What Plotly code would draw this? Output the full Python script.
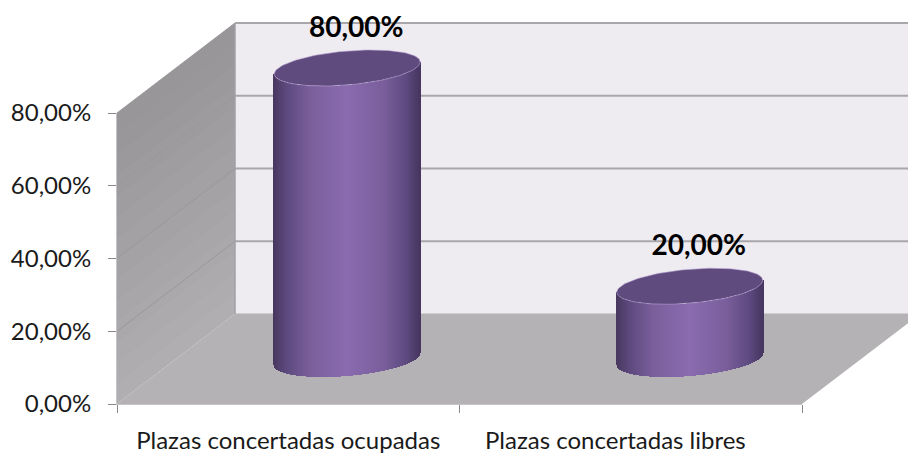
import numpy as np
import plotly.graph_objects as go

CATEGORIES = ["Plazas concertadas ocupadas", "Plazas concertadas libres"]
VALUES = [80.0, 20.0]
TICK_VALUES = [0, 20, 40, 60, 80]
TICK_LABELS = ["0,00%", "20,00%", "40,00%", "60,00%", "80,00%"]
LABEL_PAD = [0, 5]         # trailing no-break spaces that nudge a category label left

W, H = 908, 453
X0, X1 = 117, 802          # category axis, pixels
Y0, Y80 = 404, 113         # value axis, pixels
PX_CAT = (X1 - X0) / len(CATEGORIES)
PX_VAL = (Y0 - Y80) / 80
DX = 118 / PX_CAT          # full chart depth, in data units
DY = 90 / PX_VAL
FONT = "Lato, Carlito, sans-serif"

xr = [-0.5 - X0 / PX_CAT, -0.5 + (W - X0) / PX_CAT]
yr = [(Y0 - H) / PX_VAL, Y0 / PX_VAL]
XL, XR = -0.5, len(CATEGORIES) - 0.5
VMAX = max(TICK_VALUES)
SHOWN = [c + "\u00a0" * n for c, n in zip(CATEGORIES, LABEL_PAD)]


def poly(xs, ys, fill, line=None, lw=0, ax=("x2", "y2")):
    return go.Scatter(x=list(xs), y=list(ys), xaxis=ax[0], yaxis=ax[1], mode="lines",
                      fill="toself", fillcolor=fill,
                      line=dict(color=line or fill, width=lw),
                      hoverinfo="skip", showlegend=False)


def seg(xs, ys, color, lw):
    return go.Scatter(x=list(xs), y=list(ys), xaxis="x2", yaxis="y2", mode="lines",
                      line=dict(color=color, width=lw), hoverinfo="skip", showlegend=False)


def mix(stops, t):
    pos = [s[0] for s in stops]
    out = [int(np.interp(t, pos, [int(s[1][i:i + 2], 16) for s in stops])) for i in (1, 3, 5)]
    return f"rgb({out[0]},{out[1]},{out[2]})"


traces = []
# invisible carrier: gives the visible axes their scale
traces.append(go.Bar(x=SHOWN, y=VALUES, marker=dict(opacity=0), hoverinfo="skip", showlegend=False))

# back wall
traces.append(poly([XL + DX, XR + DX, XR + DX, XL + DX], [DY, DY, VMAX + DY, VMAX + DY], "#EEEBF1"))
# floor
traces.append(poly([XL, XR, XR + DX, XL + DX], [0, 0, DY, DY], "#B4B2B4"))
# left wall, shaded top-dark to bottom-light; each band overlaps the ones below
bands = 14
for i in range(bands, 0, -1):
    v1 = VMAX * i / bands
    c = mix([(0, "#B0AEB0"), (1, "#989698")], (i - 1) / (bands - 1))
    traces.append(poly([XL, XL + DX, XL + DX, XL], [0, DY, v1 + DY, v1], c))
# gridlines
for v in TICK_VALUES:
    if v > 0:
        traces.append(seg([XL + DX, XR + DX], [v + DY, v + DY], "#A9A7AB", 2))
        traces.append(seg([XL, XL + DX], [v, v + DY], "#9A989B", 1))
traces.append(seg([XL + DX, XR + DX], [DY, DY], "#B4B2B4", 1))
traces.append(seg([XL + DX, XL + DX], [DY, VMAX + DY], "#A3A1A4", 1.5))
traces.append(seg([XL, XL + DX], [0, DY], "#C6C4C7", 1))

# cylinders
A, B, S = 73.0, 17.0, 6.0    # ellipse half-axes and tilt, pixels
BODY = [(-1, "#483860"), (-0.82, "#5E4A7E"), (-0.5, "#7A5F9C"), (0, "#8A6CB0"),
        (0.5, "#7A5F9C"), (0.82, "#5E4A80"), (1, "#463660")]
us = np.linspace(-1, 1, 147)
front = (B * np.sqrt(1 - us ** 2) - S * us) / PX_VAL
bx, by, bb, bc = [], [], [], []
for k, val in enumerate(VALUES):
    for u, fr in zip(us, front):
        bx.append(k + DX / 2 + u * A / PX_CAT)
        by.append(val)
        bb.append(DY / 2 - fr)
        bc.append(mix(BODY, u))
traces.append(go.Bar(x=bx, y=by, base=bb, xaxis="x3", yaxis="y3", width=1.25 / PX_CAT,
                     marker=dict(color=bc, line=dict(width=0)),
                     hoverinfo="skip", showlegend=False))
# caps
t = np.linspace(0, 2 * np.pi, 120)
for k, val in enumerate(VALUES):
    ex = k + DX / 2 + A * np.cos(t) / PX_CAT
    ey = val + DY / 2 + (B * np.sin(t) + S * np.cos(t)) / PX_VAL
    traces.append(poly(ex, ey, "#604B7F", "rgba(190,170,215,0.55)", 1, ("x3", "y3")))

# data labels
traces.append(go.Scatter(
    x=[k + DX / 2 + 9 / PX_CAT for k in range(len(VALUES))],
    y=[v + DY / 2 + 38 / PX_VAL for v in VALUES],
    text=[f"{v:.2f}".replace(".", ",") + "%" for v in VALUES],
    mode="text", textposition="middle center",
    textfont=dict(family=FONT, size=28, color="#000000"),
    texttemplate="<b>%{text}</b>",
    xaxis="x3", yaxis="y3", hoverinfo="skip", showlegend=False, cliponaxis=False))

fig = go.Figure(traces)
AX = "#8A888A"
TF = dict(family=FONT, size=24, color="#1A1A1A")
fig.update_layout(
    width=W, height=H, margin=dict(l=0, r=0, t=0, b=0, pad=0, autoexpand=False),
    paper_bgcolor="white", plot_bgcolor="rgba(0,0,0,0)", showlegend=False,
    barmode="overlay", bargap=0,
    font=dict(family=FONT, size=20, color="#1A1A1A"),
    xaxis=dict(domain=[X0 / W, X1 / W], type="category", categoryorder="array",
               categoryarray=SHOWN, range=[XL, XR], tickson="boundaries",
               ticks="outside", ticklen=8, tickcolor=AX, tickwidth=1, showgrid=False,
               showline=True, linecolor="#C4C3C5", linewidth=1, zeroline=False,
               anchor="y", ticklabelstandoff=15, tickfont=TF),
    yaxis=dict(domain=[(H - Y0) / H, (H - Y80) / H], range=[0, VMAX],
               tickvals=TICK_VALUES, ticktext=TICK_LABELS, ticks="outside", ticklen=8,
               tickcolor=AX, tickwidth=1, showgrid=False, showline=True,
               linecolor="#C4C3C5", linewidth=1, zeroline=False, anchor="x",
               ticklabelstandoff=12, tickfont=TF),
    xaxis2=dict(domain=[0, 1], range=xr, visible=False, anchor="y2"),
    yaxis2=dict(domain=[0, 1], range=yr, visible=False, anchor="x2"),
    xaxis3=dict(domain=[0, 1], range=xr, visible=False, anchor="y3"),
    yaxis3=dict(domain=[0, 1], range=yr, visible=False, anchor="x3"),
)
fig.write_html("out.html", config=dict(displayModeBar=False),
               post_script="document.body.style.margin='0';")
